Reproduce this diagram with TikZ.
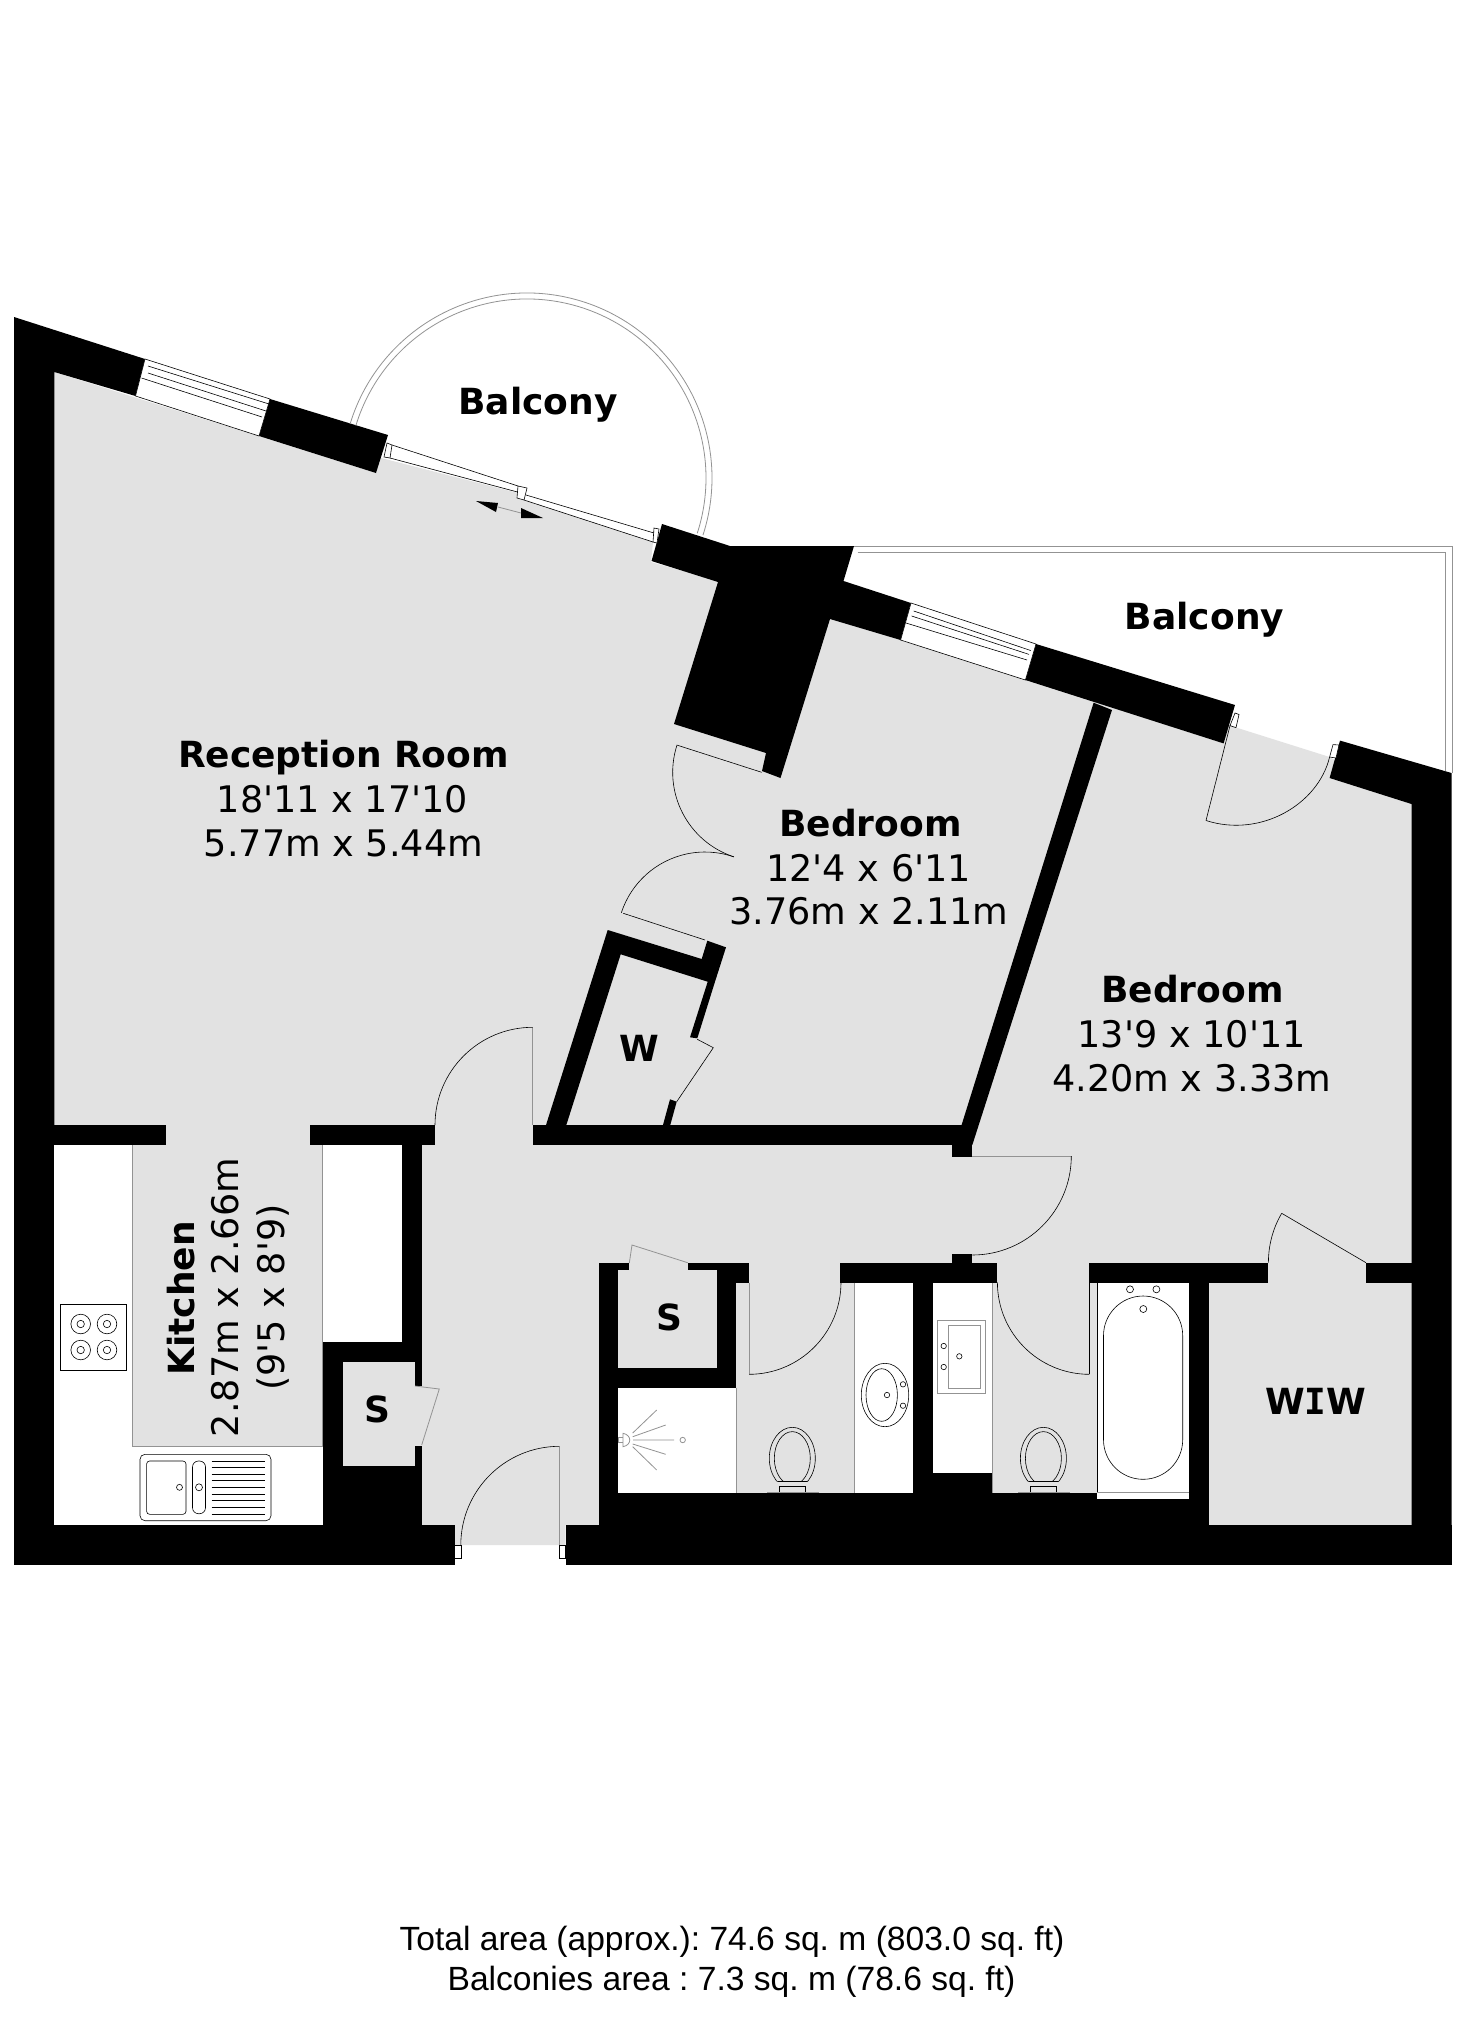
\documentclass[tikz,border=0pt]{standalone}
\usepackage{fontspec}
\setmainfont{DejaVu Sans}[Ligatures=TeXOff]
\newfontfamily\footfont{Liberation Sans}
\newfontfamily\slabfont{DejaVu Sans Mono}
\definecolor{floorgrey}{HTML}{E2E2E2}
\definecolor{edgegrey}{HTML}{939393}
\tikzset{
  wall/.style={fill=black},
  floorpart/.style={fill=floorgrey},
  whitepart/.style={fill=white},
  fine/.style={draw=black,line width=.3pt},
  pale/.style={draw=edgegrey,line width=.4pt},
  roomname/.style={anchor=base,inner sep=0pt,font=\bfseries\fontsize{18}{20}\selectfont},
  roomsize/.style={anchor=base,inner sep=0pt,font=\fontsize{18.3}{20}\selectfont},
  footnote/.style={anchor=base,inner sep=0pt,font=\footfont\frenchspacing\fontsize{16.8}{18}\selectfont}
}
\begin{document}
\begin{tikzpicture}[x=.5pt,y=-.5pt]
  \useasboundingbox (0,0) rectangle (1462,2024);
  \fill[white] (0,0) rectangle (1462,2024);

  \fill[floorpart] (54,372) -- (376,473) -- (381,458) -- (518,493) -- (524,500) -- (653,542) -- (651,562)
    -- (1230,725.6) -- (1329.6,757) -- (1412,804) -- (1412,1525) -- (565.6,1525) -- (565.6,1545)
    -- (454.6,1545) -- (454.6,1525) -- (54,1525) -- cycle;

  \fill[wall] (14,317) -- (145,359) -- (135.5,396) -- (54.3,372) -- (54.3,1564) -- (14,1564) -- cycle;
  \fill[wall] (14,1525) rectangle (454.6,1564.7);
  \fill[wall] (565.6,1525) rectangle (1451.5,1564.7);
  \fill[wall] (270,399) -- (388,435) -- (376,473) -- (259,436) -- cycle;
  \fill[wall] (662,524) -- (730,546) -- (854,546) -- (843.5,581) -- (911,603) -- (900.6,640) -- (830,619)
    -- (780.5,778) -- (762,771) -- (766,753) -- (674,724) -- (718,582) -- (651.5,561) -- cycle;
  \fill[wall] (1036,644) -- (1235,705) -- (1223.6,743.4) -- (1025.4,680) -- cycle;
  \fill[wall] (1093.6,702.7) -- (1112,710) -- (972.3,1145) -- (960,1130) -- cycle;
  \fill[wall] (1340,740.6) -- (1451.5,773) -- (1451.5,1564) -- (1411.5,1564) -- (1411.5,804) -- (1329.6,778) -- cycle;
  \fill[wall] (607.7,930) -- (701.7,959) -- (707.3,940.7) -- (726,947.3) -- (715,981.7) -- (697.3,1038.3)
    -- (690,1037.3) -- (707.7,981.7) -- (620.7,954.3) -- (566,1126) -- (545.7,1126) -- cycle;
  \fill[wall] (670,1099.3) -- (676.7,1101.7) -- (670,1126) -- (662.7,1126) -- cycle;

  \fill[wall] (54,1125) rectangle (165.7,1145);
  \fill[wall] (309.6,1125) rectangle (435,1145);
  \fill[wall] (401.8,1145) rectangle (421.7,1525);
  \fill[wall] (322.6,1341.7) rectangle (421.7,1525);
  \fill[wall] (532.7,1125) rectangle (972.3,1145);
  \fill[wall] (952.3,1145) rectangle (972.3,1156.7);
  \fill[wall] (952.3,1254) rectangle (972.3,1263);
  \fill[wall] (598.7,1262.7) rectangle (618.3,1525);
  \fill[wall] (598.7,1262.7) rectangle (629.3,1270);
  \fill[wall] (687.7,1262.7) rectangle (749.3,1270);
  \fill[wall] (716.7,1262.7) rectangle (749.3,1282.7);
  \fill[wall] (716.7,1270) rectangle (736.3,1387.7);
  \fill[wall] (598.7,1367.7) rectangle (736.3,1387.7);
  \fill[wall] (598.7,1492.7) rectangle (1209,1525);
  \fill[wall] (840.3,1262.7) rectangle (997.3,1282.7);
  \fill[wall] (913.3,1282.7) rectangle (933.3,1492.7);
  \fill[wall] (913.3,1472.7) rectangle (992.3,1492.7);
  \fill[wall] (1088.7,1262.7) rectangle (1268.4,1282.7);
  \fill[wall] (1189,1282.7) rectangle (1209,1525);
  \fill[wall] (1366,1262.7) rectangle (1411.5,1282.7);

  \fill[floorpart] (342.5,1361.7) rectangle (415.2,1466);
  \fill[floorpart] (415,1386) rectangle (422,1445.5);

  \filldraw[whitepart,fine] (145,359) -- (270,399) -- (259,436) -- (135.5,396) -- cycle;
  \draw[fine] (148,366) -- (269,404) (148,373) -- (266,411) (141.5,378) -- (262,417);
  \filldraw[whitepart,fine] (911,603) -- (1036,644) -- (1025.4,680) -- (900.6,640) -- cycle;
  \draw[fine] (913.7,611) -- (1030.7,650.5) (911.6,616) -- (1029,654.4) (906,623) -- (1027,660);

  \fill[whitepart] (54.3,1145) rectangle (132.4,1525);
  \fill[whitepart] (132.4,1446.7) rectangle (322.6,1525);
  \fill[whitepart] (322.6,1145) rectangle (401.8,1341.7);
  \draw[pale] (132.4,1145) -- (132.4,1446.7) -- (322.6,1446.7) -- (322.6,1341.7);
  \draw[pale] (322.6,1145) -- (322.6,1341.7);

  \fill[whitepart] (618.3,1387.7) rectangle (736.3,1492.7);
  \draw[pale] (736.3,1387.7) -- (736.3,1492.7);
  \fill[whitepart] (854.3,1282.7) rectangle (913.3,1492.7);
  \draw[pale] (854.3,1282.7) -- (854.3,1492.7);
  \fill[whitepart] (933.3,1282.7) rectangle (992.3,1472.7);
  \draw[pale] (992.3,1282.7) -- (992.3,1492.7);
  \fill[whitepart] (1097.3,1282.7) rectangle (1189,1499.3);
  \draw[fine] (1097.3,1282.7) -- (1097.3,1492.7);
  \draw[pale] (1097.3,1492.7) -- (1189,1492.7);

  \draw[pale] (854,546) -- (1452,546) -- (1452,773);
  \draw[pale] (857.6,552.4) -- (1445,552.4) -- (1445,771);
  \draw[pale] (527,478) ++(197:185) arc[start angle=197,end angle=378,radius=185];
  \draw[pale] (527,478) ++(197:179) arc[start angle=197,end angle=378,radius=179];

  \filldraw[whitepart,fine] (387,443) -- (392,445) -- (390,458) -- (384,457) -- cycle;
  \filldraw[whitepart,fine] (518,486) -- (527,488) -- (524,500) -- (517,498) -- cycle;
  \filldraw[whitepart,fine] (654,528) -- (659,529) -- (657,543) -- (653,542) -- cycle;
  \draw[fine] (392,445) -- (518,486) (390,458) -- (517.5,492);
  \draw[fine] (526,495) -- (654,533) (524,500) -- (653,542);
  \filldraw[whitepart,fine] (1235,713) -- (1239,714.5) -- (1236,727.6) -- (1230,725.6) -- cycle;
  \filldraw[whitepart,fine] (1333,744.6) -- (1339,745) -- (1336,758) -- (1329.6,757) -- cycle;

  \fill[black] (476,501) -- (496,512) -- (498,503) -- cycle;
  \fill[black] (521,508) -- (543,518) -- (521,518) -- cycle;
  \draw[pale] (498,507) -- (521,513);

  \draw[fine] (1230,725.6) -- (1206,820.5);
  \draw[fine] (1206,820.5) .. controls (1260,838) and (1318,805) .. (1329.6,757);
  \draw[fine] (761.7,772.3) -- (676.7,745);
  \draw[fine] (761.7,772.3) ++(197.6:89) arc[start angle=197.6,end angle=108.2,radius=89];
  \draw[fine] (705,940) -- (623.3,913.3);
  \draw[fine] (705,940) ++(198:88) arc[start angle=198,end angle=289.2,radius=88];
  \draw[fine] (697.3,1039.3) -- (713.3,1047.7) -- (676.7,1101.7);
  \draw[pale] (532.7,1125) -- (532.7,1027);
  \draw[fine] (532.7,1125) ++(180:97.7) arc[start angle=180,end angle=270,radius=97.7];
  \draw[pale] (972.3,1156) -- (1071.7,1156);
  \draw[fine] (972.3,1156) ++(0:99) arc[start angle=0,end angle=90,radius=99];
  \draw[pale] (415,1386) -- (439.3,1389) -- (421.7,1445);
  \draw[pale] (559.5,1545) -- (559.5,1446.7);
  \draw[fine] (559.5,1545) ++(180:98.7) arc[start angle=180,end angle=270,radius=98.7];
  \filldraw[whitepart,fine] (454.6,1545) rectangle (460.8,1558);
  \filldraw[whitepart,fine] (559.5,1545) rectangle (565.6,1558);
  \draw[pale] (629.3,1263) -- (632,1245) -- (687.7,1262.7);
  \draw[pale] (749,1282.7) -- (749,1374.3);
  \draw[fine] (749,1374.3) arc[start angle=90,end angle=0,radius=92] ;
  \draw[fine] (1089.4,1283) -- (1089.4,1374.3);
  \draw[fine] (1089.4,1374.3) arc[start angle=90,end angle=180,radius=92];
  \draw[fine] (1366,1262.7) -- (1281.7,1213.3);
  \draw[fine] (1268.4,1262.7) .. controls (1268.4,1245) and (1273,1228) .. (1281.7,1213.3);

  \filldraw[whitepart,fine] (60.5,1304) rectangle (126.3,1370);
  \foreach \bx in {80.7,107} \foreach \by in {1324,1350} {
    \draw[fine] (\bx,\by) circle (9.8) (\bx,\by) circle (3.7);
  }

  \draw[fine,rounded corners=2.5pt] (140,1454.3) rectangle (271,1520.7);
  \draw[fine,rounded corners=1.5pt] (146.6,1461) rectangle (186,1514.3);
  \draw[fine,rounded corners=3pt] (192.5,1461) rectangle (205.5,1513.7);
  \draw[fine] (179.5,1487.3) circle (3) (199,1487.3) circle (3.5);
  \foreach \dy in {1461,1467.7,1474,1480.7,1487.3,1494,1500.7,1507.3,1514.3} {
    \draw[fine] (211.6,\dy) -- (264.8,\dy);
  }

  \draw[fine,rounded corners=19.8pt] (1103.5,1296) rectangle (1182.7,1479.3);
  \foreach \tx/\ty in {1130/1289.3,1156.4/1289.3,1143.3/1309} {
    \draw[fine] (\tx,\ty) circle (3.5);
  }

  \draw[fine] (885,1395) ellipse [x radius=23.7,y radius=31.7];
  \draw[fine] (881.7,1395) ellipse [x radius=15.7,y radius=26.3];
  \foreach \tx/\ty in {887/1395,903/1384.3,903/1405.7} {
    \draw[fine] (\tx,\ty) circle (2.7);
  }

  \draw[pale] (937.7,1320) rectangle (985.7,1393.3);
  \draw[pale] (948.3,1325.3) rectangle (980.3,1388.3);
  \foreach \tx/\ty in {943.7/1346,943.7/1367,959.3/1356.3} {
    \draw[fine] (\tx,\ty) circle (2.7);
  }

  \draw[pale] (618.3,1437.3) rectangle (625,1442.7);
  \filldraw[whitepart,pale] (623,1433.3) .. controls (632,1435) and (632,1445) .. (623,1446.7) -- cycle;
  \draw[pale] (632.7,1433) -- (656.7,1410) (632.7,1436.7) -- (665.7,1425) (633,1440) -- (674,1440)
    (632.7,1444) -- (665.7,1454.3) (632.7,1446.7) -- (656.7,1470);
  \draw[pale] (682.7,1440) circle (2.7);

  \foreach \wcx in {792.3,1043.4} {
    \begin{scope}
      \clip (\wcx-30,1420) rectangle (\wcx+30,1481.7);
      \draw[fine] (\wcx,1458.3) ellipse [x radius=23,y radius=31];
      \draw[fine] (\wcx,1458.3) ellipse [x radius=18,y radius=26.7];
    \end{scope}
    \draw[fine] (\wcx-14.5,1481.7) -- (\wcx+14.5,1481.7);
    \draw[fine] (\wcx-13.1,1486) rectangle (\wcx+13.1,1492.7);
    \draw[pale] (\wcx-25,1492.7) -- (\wcx+27,1492.7);
  }

  \node[roomname] (receptionname) at (343.5,767) {Reception Room};
  \node[roomsize] (receptionfeet) at (342.5,812.5) {18'11 x 17'10};
  \node[roomsize] (receptionmetres) at (343.5,856) {5.77m x 5.44m};
  \node[roomname] (balconyleft) at (538,414) {Balcony};
  \node[roomname] (balconyright) at (1204.5,629.7) {Balcony};
  \node[roomname] (bedroomonename) at (870.5,836.3) {Bedroom};
  \node[roomsize] (bedroomonefeet) at (868.6,881) {12'4 x 6'11};
  \node[roomsize] (bedroomonemetres) at (869,924) {3.76m x 2.11m};
  \node[roomname] (bedroomtwoname) at (1192.5,1002.4) {Bedroom};
  \node[roomsize] (bedroomtwofeet) at (1191.7,1047) {13'9 x 10'11};
  \node[roomsize] (bedroomtwometres) at (1191.7,1091.6) {4.20m x 3.33m};
  \node[roomname,rotate=90] (kitchenname) at (194.4,1298.3) {Kitchen};
  \node[roomsize,rotate=90] (kitchenmetres) at (238,1297.5) {2.87m x 2.66m};
  \node[roomsize,rotate=90] (kitchenfeet) at (284,1297.5) {(9'5 x 8'9)};
  \node[roomname] (storehall) at (377,1422.7) {S};
  \node[roomname] (storebath) at (669,1330) {S};
  \node[roomname] (wardrobe) at (639,1061) {W};
  \node[roomname] (walkin) at (1315.8,1414.3) {W{\slabfont I}W};
  \node[footnote] (totalarea) at (732,1950) {Total area (approx.): 74.6 sq. m (803.0 sq. ft)};
  \node[footnote] (balconyarea) at (731.5,1990.7) {Balconies area : 7.3 sq. m (78.6 sq. ft)};
\end{tikzpicture}
\end{document}
